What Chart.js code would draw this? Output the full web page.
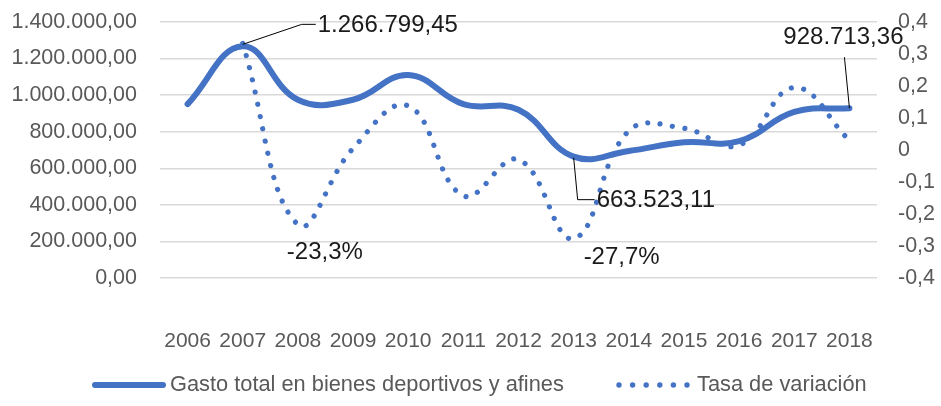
<!DOCTYPE html>
<html>
<head>
<meta charset="utf-8">
<script src="https://cdn.jsdelivr.net/npm/chart.js@4"></script>
<style>
  html, body { margin: 0; padding: 0; background: #fff; }
  #wrap { width: 941px; height: 406px; position: relative; }
</style>
</head>
<body>
<div id="wrap"><canvas id="chart" width="941" height="406"></canvas></div>
<script>
// data
const years = ['2006', '2007', '2008', '2009', '2010', '2011', '2012', '2013', '2014', '2015', '2016', '2017', '2018'];
const gasto = [951000, 1266799.45, 975000, 975000, 1110000, 951000, 920000, 663523.11, 695000, 742000, 748000, 908000, 928713.36];
const tasa = [null, 0.333, -0.233, 0.005, 0.138, -0.143, -0.03, -0.277, 0.06, 0.068, 0.015, 0.195, 0.03];
const seriesNames = ['Gasto total en bienes deportivos y afines', 'Tasa de variación'];
const leftTicks = [0, 1400000, 200000];   // min, max, step
const rightTicks = [-0.4, 0.4, 0.1];

const blue = '#4472C4';
const font = '"Liberation Sans", Arial, sans-serif';

function fmtMoney(v) {
  const parts = Number(v).toFixed(2).split('.');
  parts[0] = parts[0].replace(/\B(?=(\d{3})+(?!\d))/g, '.');
  return parts[0] + ',' + parts[1];
}
function fmtRate(v) {
  const r = Math.round(v * 10) / 10;
  if (r === 0) return '0';
  return r.toFixed(1).replace('.', ',');
}
function fmtPct(v) {
  return (v * 100).toFixed(1).replace('.', ',') + '%';
}

// data labels with leader lines, placed relative to the points
const labelsPlugin = {
  id: 'dataLabels',
  afterDatasetsDraw(chart) {
    const ctx = chart.ctx;
    const x = chart.scales.x, yl = chart.scales.y, yr = chart.scales.y2;
    ctx.save();
    ctx.fillStyle = '#1a1a1a';
    ctx.strokeStyle = '#000';
    ctx.lineWidth = 1;
    ctx.font = '24px ' + font;
    ctx.textBaseline = 'middle';

    function pt(i, ds) {
      return ds === 0 ? [x.getPixelForValue(i), yl.getPixelForValue(gasto[i])]
                      : [x.getPixelForValue(i), yr.getPixelForValue(tasa[i])];
    }
    function line(pts) {
      ctx.beginPath();
      ctx.moveTo(pts[0][0], pts[0][1]);
      for (let k = 1; k < pts.length; k++) ctx.lineTo(pts[k][0], pts[k][1]);
      ctx.stroke();
    }

    // 2007 max
    let [px, py] = pt(1, 0);
    line([[px, py - 2], [px + 59, py - 22], [px + 73, py - 22]]);
    ctx.textAlign = 'left';
    ctx.fillText(fmtMoney(gasto[1]), px + 75, py - 21);

    // 2013 min
    [px, py] = pt(7, 0);
    line([[px, py + 1], [px + 4, py + 43], [px + 21, py + 43]]);
    ctx.fillText(fmtMoney(gasto[7]), px + 23, py + 44);

    // 2018 last
    [px, py] = pt(12, 0);
    line([[px, py], [px - 5, py - 51]]);
    ctx.textAlign = 'center';
    ctx.fillText(fmtMoney(gasto[12]), px - 6, py - 71);

    // rates
    [px, py] = pt(2, 1);
    ctx.fillText(fmtPct(tasa[2]), px + 27, py + 28);
    [px, py] = pt(7, 1);
    ctx.fillText(fmtPct(tasa[7]), px + 48, py + 19);
    ctx.restore();
  }
};

// legend drawn under the axis
const legendPlugin = {
  id: 'bottomLegend',
  afterDraw(chart) {
    const ctx = chart.ctx;
    const y = 385;
    ctx.save();
    ctx.strokeStyle = blue;
    ctx.lineCap = 'round';
    ctx.lineWidth = 6;
    ctx.beginPath();
    ctx.moveTo(95, y);
    ctx.lineTo(163, y);
    ctx.stroke();
    ctx.fillStyle = blue;
    for (let k = 0; k < 6; k++) {
      ctx.beginPath();
      ctx.arc(619 + k * 13.6, y, 2.7, 0, Math.PI * 2);
      ctx.fill();
    }
    ctx.fillStyle = '#595959';
    ctx.font = '21.8px ' + font;
    ctx.textBaseline = 'middle';
    ctx.textAlign = 'left';
    ctx.fillText(seriesNames[0], 170, y);
    ctx.fillText(seriesNames[1], 697, y);
    ctx.restore();
  }
};

function noOverhang(s) {
  s.paddingTop = 0;
  s.paddingBottom = 0;
}

const ctx = document.getElementById('chart').getContext('2d');
new Chart(ctx, {
  type: 'line',
  data: {
    labels: years,
    datasets: [{
      label: seriesNames[0],
      data: gasto,
      yAxisID: 'y',
      borderColor: blue,
      borderWidth: 6,
      borderCapStyle: 'round',
      tension: 0.42,
      pointRadius: 0,
      order: 2
    }, {
      label: seriesNames[1],
      data: tasa,
      yAxisID: 'y2',
      borderColor: blue,
      borderWidth: 5.2,
      borderDash: [0.01, 12.5],
      borderCapStyle: 'round',
      tension: 0.42,
      pointRadius: 0,
      order: 1
    }]
  },
  options: {
    responsive: false,
    animation: false,
    layout: { padding: { top: 22, left: 0, right: 0, bottom: 0 } },
    plugins: { legend: { display: false }, tooltip: { enabled: false } },
    scales: {
      x: {
        offset: true,
        grid: { display: false, drawTicks: false },
        border: { display: false },
        ticks: { color: '#595959', font: { size: 21, family: font }, padding: 51, maxRotation: 0, autoSkip: false },
        afterFit(s) { s.height = 128; s.paddingLeft = 0; s.paddingRight = 0; }
      },
      y: {
        position: 'left',
        min: leftTicks[0], max: leftTicks[1],
        ticks: { stepSize: leftTicks[2], color: '#595959', font: { size: 21.5, family: font }, padding: 23, callback: v => fmtMoney(v) },
        grid: { color: '#d9d9d9', lineWidth: 1.5, drawTicks: false },
        border: { display: false },
        afterFit(s) { s.width = 160; noOverhang(s); }
      },
      y2: {
        position: 'right',
        min: rightTicks[0], max: rightTicks[1],
        ticks: { stepSize: rightTicks[2], color: '#595959', font: { size: 21.5, family: font }, padding: 21, callback: v => fmtRate(v) },
        grid: { display: false, drawTicks: false },
        border: { display: false },
        afterFit(s) { s.width = 64; noOverhang(s); }
      }
    }
  },
  plugins: [labelsPlugin, legendPlugin]
});
</script>
</body>
</html>
